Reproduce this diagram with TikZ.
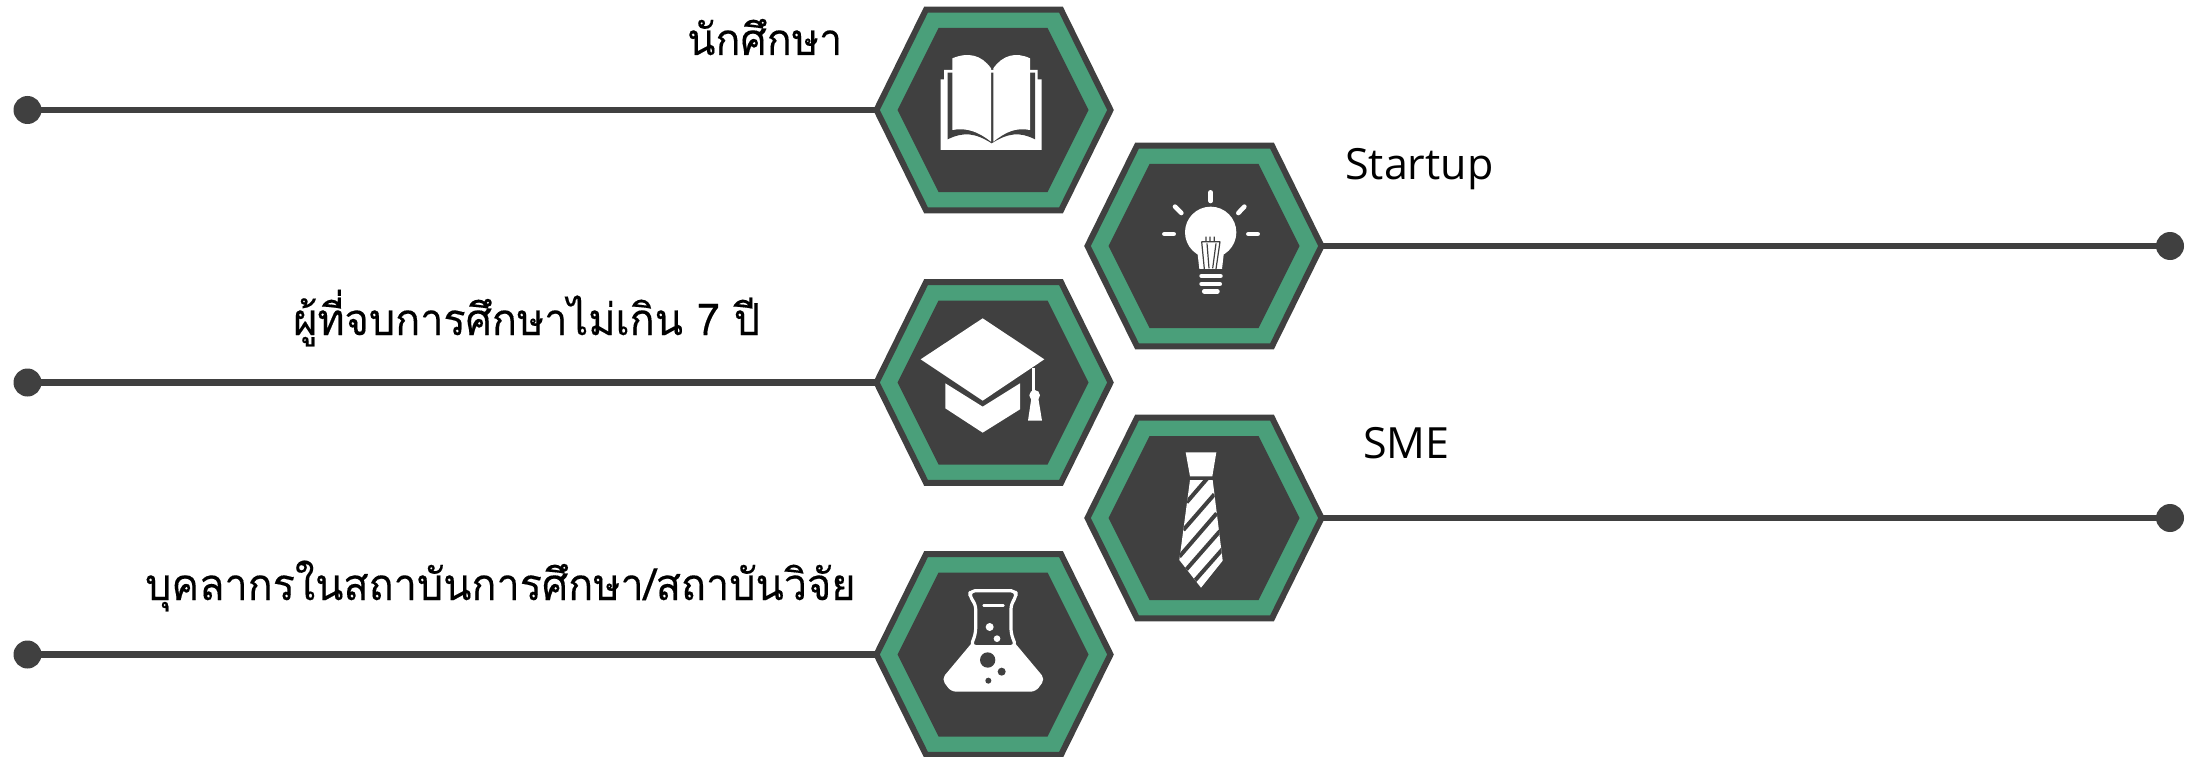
\documentclass[tikz,border=0pt]{standalone}
\usepackage{graphicx}
\usepackage{fontspec}
\newfontfamily\thaifont[Script=Thai,FakeBold=0.25]{Loma}
\newfontfamily\latinfont{Open Sans}
\definecolor{hexdark}{HTML}{404040}
\definecolor{hexgreen}{HTML}{4A9F7A}
\newcommand{\narrowthai}[1]{\scalebox{0.94}[1]{#1}}
\tikzset{
  hexbox/.style={rectangle,draw=none,inner sep=0pt,minimum width=237pt,minimum height=206pt},
  hexouter/.style={draw=hexdark,fill=hexgreen,line width=6pt,line join=miter},
  hexinner/.style={fill=hexdark},
  enddot/.style={circle,fill=hexdark,draw=none,inner sep=0pt,minimum size=28pt},
  conn/.style={draw=hexdark,line width=6.5pt},
  thailabel/.style={anchor=base west,inner sep=0pt,font=\thaifont\fontsize{44}{50}\selectfont,text=black},
  latinlabel/.style={anchor=base west,inner sep=0pt,font=\latinfont\fontsize{43}{50}\selectfont,text=black},
  icon/.style={fill=white,draw=none},
  iconcut/.style={fill=hexdark,draw=none},
  zoomed/.style={x=0.33333pt,y=-0.33333pt}
}
\newcommand{\hexbody}[1]{%
  \begin{scope}[shift={(#1.center)}]
    \path[hexouter] (-117,0) -- (-67.5,-100.3) -- (67.5,-100.3) -- (117,0) -- (67.5,100.3) -- (-67.5,100.3) -- cycle;
    \path[hexinner] (-96,0) -- (-55,-82) -- (54,-82) -- (95,0) -- (54,82) -- (-55,82) -- cycle;
  \end{scope}}
\begin{document}
\begin{tikzpicture}[x=1pt,y=-1pt]
\useasboundingbox (0,0) rectangle (2201,757);
% end dots
\node[enddot] (dotA) at (27.5,110) {};
\node[enddot] (dotB) at (27.5,382.5) {};
\node[enddot] (dotC) at (27.5,654.5) {};
\node[enddot] (dotD) at (2170,246) {};
\node[enddot] (dotE) at (2170,518) {};
% hexagon nodes
\node[hexbox] (hexA) at (993.5,110) {};
\node[hexbox] (hexB) at (993.5,382.5) {};
\node[hexbox] (hexC) at (993.5,654.5) {};
\node[hexbox] (hexD) at (1204.5,246) {};
\node[hexbox] (hexE) at (1204.5,518) {};
% connectors
\draw[conn] (dotA.center) -- (hexA.center);
\draw[conn] (dotB.center) -- (hexB.center);
\draw[conn] (dotC.center) -- (hexC.center);
\draw[conn] (hexD.center) -- (dotD.center);
\draw[conn] (hexE.center) -- (dotE.center);
% hexagon bodies
\hexbody{hexA}
\hexbody{hexB}
\hexbody{hexC}
\hexbody{hexD}
\hexbody{hexE}
% labels
\node[thailabel] (labA) at (687,55) {\narrowthai{นักศึกษา}};
\node[thailabel] (labB) at (293,335) {\narrowthai{ผู้ที่จบการศึกษาไม่เกิน 7 ปี}};
\node[thailabel] (labC) at (145,600) {\narrowthai{บุคลากรในสถาบันการศึกษา/สถาบันวิจัย}};
\node[latinlabel] (labD) at (1345,179) {Startup};
\node[latinlabel] (labE) at (1363,458) {SME};
% book
\begin{scope}[shift={(935,50)},zoomed]
  \path[icon] (17,88) -- (27,88) -- (27,60) -- (308,60) -- (308,88) -- (320,88) -- (320,300) -- (17,300) -- cycle;
  \path[iconcut] (38,68) -- (38,268) .. controls (85,245) and (120,248) .. (170,280) .. controls (220,248) and (255,245) .. (300,268) -- (300,68) -- cycle;
  \path[icon] (52,25) .. controls (100,5) and (140,15) .. (168,55) -- (168,275) .. controls (130,245) and (95,232) .. (52,240) -- cycle;
  \path[icon] (175,55) .. controls (203,15) and (243,5) .. (285,25) -- (285,240) .. controls (243,232) and (213,245) .. (175,275) -- cycle;
\end{scope}
% bulb
\begin{scope}[shift={(1160,185)},zoomed]
  \foreach \ax/\ay/\bx/\by in {152/22/152/48,45/65/64/84,253/65/235/84,13/147/41/147,265/147/293/147}
    \draw[white,line width=4.6pt,line cap=round] (\ax,\ay) -- (\bx,\by);
  \path[icon] (152,142) circle[radius=77];
  \path[icon] (112,200) -- (118,252) -- (186,252) -- (192,200) -- cycle;
  \draw[hexdark,line width=1.2pt] (125,170) -- (180,170) (125,170) -- (133,252) (180,170) -- (168,252)
     (138,155) -- (138,170) (150,155) -- (150,170) (163,155) -- (163,170)
     (141,175) -- (147,250) (168,175) -- (158,250);
  \foreach \ax/\bx/\yy in {125/181/273,125/179/297,133/172/319}
    \draw[white,line width=4.8pt,line cap=round] (\ax,\yy) -- (\bx,\yy);
\end{scope}
% cap
\begin{scope}[shift={(850,270)},zoomed]
  \path[icon] (398,145) -- (583,268) -- (398,392) -- (212,268) -- cycle;
  \path[icon] (286,340) -- (398,410) -- (510,340) -- (510,418) -- (398,488) -- (286,415) -- cycle;
  \draw[white,line width=2.6pt] (550,295) -- (550,368);
  \path[icon] (554,376) circle[radius=16];
  \path[icon] (544,385) -- (534,452) -- (576,452) -- (565,385) -- cycle;
\end{scope}
% tie
\begin{scope}[shift={(1170,445)},zoomed]
  \path[icon] (47,22) -- (139,22) -- (127,94) -- (60,94) -- cycle;
  \begin{scope}
    \clip (60,105) -- (128,105) -- (158,347) -- (93,428) -- (28,345) -- cycle;
    \path[icon] (0,90) rectangle (190,440);
    \foreach \ax/\ay/\bx/\by in {112/100/50/172,133/148/40/255,140/205/28/335,150/258/45/378,158/312/70/412}
      \draw[hexdark,line width=4pt] (\ax,\ay) -- (\bx,\by);
  \end{scope}
\end{scope}
% flask
\begin{scope}[shift={(935,580)},zoomed]
  \draw[white,line width=3.2pt,line join=round,rounded corners=5pt,fill=hexdark]
    (122,160) -- (122,72) -- (105,52) -- (105,32) -- (243,32) -- (243,52) -- (228,72) -- (228,160) -- (243,200) -- (107,200) -- cycle;
  \path[icon,rounded corners=5pt] (118,180) -- (20,297) -- (48,335) -- (302,335) -- (330,297) -- (232,180) -- (243,200) -- (107,200) -- cycle;
  \draw[white,line width=2.8pt,line cap=round] (146,76) -- (205,76);
  \path[icon] (164,141) circle[radius=12];
  \path[icon] (186,176) circle[radius=10];
  \path[iconcut] (158,240) circle[radius=23];
  \path[iconcut] (200,275) circle[radius=12];
  \path[iconcut] (160,302) circle[radius=9];
\end{scope}
\end{tikzpicture}
\end{document}
